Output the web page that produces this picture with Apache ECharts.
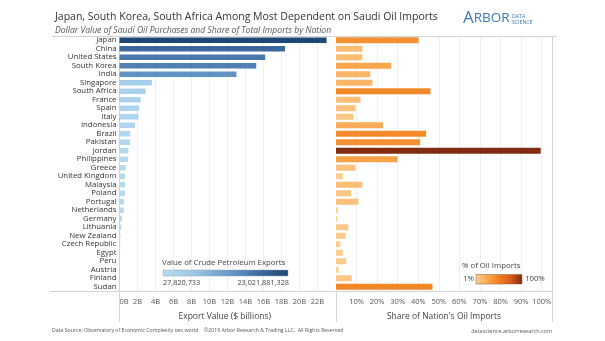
<!DOCTYPE html>
<html>
<head>
<meta charset="utf-8">
<script src="https://cdn.jsdelivr.net/npm/echarts@6/dist/echarts.min.js"></script>
<style>
  html, body { margin: 0; padding: 0; background: #fff; }
  #chart { width: 605px; height: 341px; }
</style>
</head>
<body>
<div id="chart"></div>
<script>
// Countries ordered by value of crude petroleum bought from Saudi Arabia
const countries = [
  'Japan', 'China', 'United States', 'South Korea', 'India', 'Singapore',
  'South Africa', 'France', 'Spain', 'Italy', 'Indonesia', 'Brazil',
  'Pakistan', 'Jordan', 'Philippines', 'Greece', 'United Kingdom', 'Malaysia',
  'Poland', 'Portugal', 'Netherlands', 'Germany', 'Lithuania', 'New Zealand',
  'Czech Republic', 'Egypt', 'Peru', 'Austria', 'Finland', 'Sudan'
];

// Export value, $ billions
const exportValueB = [
  23.02, 18.4, 16.2, 15.2, 13.0, 3.6,
  2.9, 2.35, 2.17, 2.1, 1.72, 1.2,
  1.18, 1.0, 0.95, 0.7, 0.63, 0.62,
  0.61, 0.5, 0.47, 0.28, 0.2, 0.1,
  0.08, 0.07, 0.06, 0.05, 0.04, 0.0278
];

// Saudi share of each nation's oil imports, %
const shareOfImports = [
  40.1, 12.8, 12.8, 26.8, 16.7, 17.7,
  45.9, 11.9, 9.4, 8.5, 22.9, 43.8,
  40.9, 99.5, 29.9, 9.4, 3.3, 12.8,
  7.3, 10.9, 1.0, 0.7, 6.0, 4.7,
  2.1, 3.3, 5.0, 1.3, 7.6, 46.9
];

// Colour scale ranges shown in the legends
const exportLegendLabels = ['27,820,733', '23,021,881,328'];
const exportRangeB = [0.0278, 23.02];
const shareLegendLabels = ['1%', '100%'];
const shareRange = [1, 100];

const blueRamp = ['#b8dbf2', '#98c7e8', '#6d9fcf', '#3e70a6', '#1d4776'];
const orangeRamp = ['#fdd095', '#f9a84f', '#f2811f', '#d85a19', '#7f2a10'];

const FONT = '"Open Sans", "Noto Sans", sans-serif';
const LINE = '#d4d4d4';

function gradient(colors) {
  return new echarts.graphic.LinearGradient(0, 0, 1, 0,
    colors.map((c, i) => ({ offset: i / (colors.length - 1), color: c })));
}

function label(props, style) {
  return Object.assign({ type: 'text', z: 100, silent: true },
    props, { style: Object.assign({ fontFamily: FONT, fill: '#444' }, style) });
}

function rule(x1, y1, x2, y2) {
  return { type: 'line', z: 100, silent: true, shape: { x1, y1, x2, y2 }, style: { stroke: LINE, lineWidth: 1 } };
}

const chart = echarts.init(document.getElementById('chart'), null, { renderer: 'canvas' });

const option = {
  backgroundColor: '#fff',
  animation: false,
  textStyle: { fontFamily: FONT },
  title: [
    {
      text: 'Japan, South Korea, South Africa Among Most Dependent on Saudi Oil Imports',
      left: 50, top: 7,
      textStyle: { fontFamily: FONT, fontSize: 10.5, fontWeight: 'normal', color: '#333' }
    },
    {
      text: 'Dollar Value of Saudi Oil Purchases and Share of Total Imports by Nation',
      left: 50, top: 21.5,
      textStyle: { fontFamily: FONT, fontSize: 8.6, fontStyle: 'italic', fontWeight: 'normal', color: '#555' }
    }
  ],
  grid: [
    { left: 119.5, right: 275, top: 36, bottom: 50, containLabel: false },
    { left: 336, right: 53, top: 36, bottom: 50, containLabel: false }
  ],
  xAxis: [
    {
      gridIndex: 0, type: 'value', min: 0, max: 23.4, interval: 2,
      name: 'Export Value ($ billions)', nameLocation: 'middle', nameGap: 21,
      nameTextStyle: { fontFamily: FONT, fontSize: 8.5, color: '#444' },
      axisLine: { show: false }, axisTick: { show: false },
      axisLabel: {
        fontFamily: FONT, fontSize: 7.5, color: '#555', margin: 7,
        alignMinLabel: 'left',
        formatter: v => (v <= 22 && Math.abs(v % 2) < 1e-9) ? v + 'B' : ''
      },
      splitLine: { show: true, showMinLine: false, showMaxLine: false, lineStyle: { color: '#f0f0f0', width: 1 } }
    },
    {
      gridIndex: 1, type: 'value', min: 0, max: 105, interval: 10,
      name: "Share of Nation's Oil Imports", nameLocation: 'middle', nameGap: 21,
      nameTextStyle: { fontFamily: FONT, fontSize: 8.5, color: '#444' },
      axisLine: { show: false }, axisTick: { show: false },
      axisLabel: {
        fontFamily: FONT, fontSize: 7.5, color: '#555', margin: 7,
        formatter: v => (v > 0 && v <= 100) ? v + '%' : ''
      },
      splitLine: { show: true, showMinLine: false, showMaxLine: false, lineStyle: { color: '#f0f0f0', width: 1 } }
    }
  ],
  yAxis: [
    {
      gridIndex: 0, type: 'category', data: countries, inverse: true,
      axisLine: { show: true, lineStyle: { color: LINE } },
      axisTick: { show: false },
      axisLabel: { fontFamily: FONT, fontSize: 7.8, color: '#333', margin: 3, interval: 0 }
    },
    {
      gridIndex: 1, type: 'category', data: countries, inverse: true,
      axisLine: { show: false }, axisTick: { show: false }, axisLabel: { show: false }
    }
  ],
  visualMap: [
    {
      show: false, type: 'continuous', seriesIndex: 0, dimension: 0,
      min: exportRangeB[0], max: exportRangeB[1], inRange: { color: blueRamp }
    },
    {
      show: false, type: 'continuous', seriesIndex: 1, dimension: 0,
      min: shareRange[0], max: shareRange[1], inRange: { color: orangeRamp }
    }
  ],
  series: [
    {
      name: 'Export Value', type: 'bar', xAxisIndex: 0, yAxisIndex: 0,
      barWidth: 5.5,
      data: countries.map((c, i) => [exportValueB[i], c])
    },
    {
      name: 'Share of Oil Imports', type: 'bar', xAxisIndex: 1, yAxisIndex: 1,
      barWidth: 6,
      data: countries.map((c, i) => [shareOfImports[i], c])
    }
  ],
  graphic: [
    // panel frame and axis dividers
    rule(52, 36.5, 556, 36.5),
    rule(50, 291.5, 552, 291.5),
    rule(119.5, 291, 119.5, 322),
    rule(336.5, 291, 336.5, 322),
    rule(552.5, 36.5, 552.5, 322),

    // logo
    label({ left: 463, top: 10 }, {
      text: '{a|A}{b|RBOR}',
      rich: {
        a: { fontFamily: FONT, fontSize: 17, fill: '#3b7bb3' },
        b: { fontFamily: FONT, fontSize: 13.5, fill: '#3b7bb3' }
      }
    }),
    label({ left: 512, top: 14.5 }, { text: 'DATA', fontSize: 5.2, fill: '#3b7bb3' }),
    label({ left: 512, top: 20.5 }, { text: 'SCIENCE', fontSize: 5.2, fill: '#3b7bb3' }),

    // export value legend
    label({ left: 162, top: 259 }, { text: 'Value of Crude Petroleum Exports', fontSize: 7.8 }),
    {
      type: 'rect', z: 100, silent: true, shape: { x: 163, y: 270, width: 125, height: 6 },
      style: { fill: gradient(blueRamp), stroke: '#9aa6b2', lineWidth: 0.5 }
    },
    label({ left: 163, top: 279 }, { text: exportLegendLabels[0], fontSize: 7.3 }),
    label({ right: 605 - 289, top: 279 }, { text: exportLegendLabels[1], fontSize: 7.3, align: 'right' }),

    // share legend
    label({ left: 462, top: 262 }, { text: '% of Oil Imports', fontSize: 7.8 }),
    {
      type: 'rect', z: 100, silent: true, shape: { x: 476, y: 274.5, width: 46, height: 9.5 },
      style: { fill: gradient(orangeRamp), stroke: '#8a5a40', lineWidth: 0.5 }
    },
    label({ right: 605 - 474, top: 274.5 }, { text: shareLegendLabels[0], fontSize: 7.8, align: 'right' }),
    label({ left: 525, top: 274.5 }, { text: shareLegendLabels[1], fontSize: 7.8 }),

    // footer
    label({ left: 52, top: 328 }, { text: 'Data Source: Observatory of Economic Complexity oec.world', fontSize: 5.2, fill: '#555' }),
    label({ left: 204, top: 328 }, { text: '\u00A92019 Arbor Research & Trading LLC,  All Rights Reserved', fontSize: 5.2, fill: '#555' }),
    label({ right: 53, top: 328 }, { text: 'datascience.arborresearch.com', fontSize: 5.5, fill: '#555', align: 'right' })
  ]
};

chart.setOption(option);
</script>
</body>
</html>
